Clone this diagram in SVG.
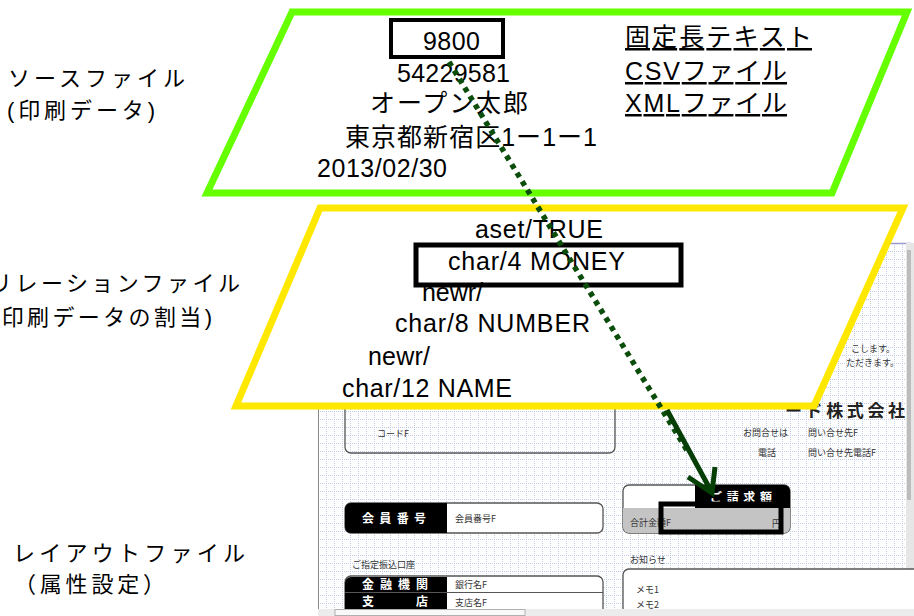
<svg xmlns="http://www.w3.org/2000/svg" width="914" height="616" viewBox="0 0 914 616">
<style>
  .t { font-family: "Liberation Sans", "Noto Sans CJK JP", sans-serif; font-size: 25px; fill: #000; }
  .lbl { font-family: "Liberation Sans", "Noto Sans CJK JP", sans-serif; font-size: 22px; fill: #000; }
  .u { text-decoration: underline; }
  .s { font-family: "Noto Sans CJK JP", sans-serif; font-size: 9px; fill: #333; }
  .w { font-family: "Noto Sans CJK JP", sans-serif; font-size: 12px; font-weight: bold; fill: #fff; }
  .cell { fill: #000; }
  .box { fill: none; stroke: #555; stroke-width: 1.3; }
  .hl { fill: none; stroke: #000; stroke-width: 5; }
</style>
<defs>
  <pattern id="grid" x="318" y="243" width="8" height="8" patternUnits="userSpaceOnUse">
    <rect width="8" height="8" fill="#fff"/>
    <path d="M0 0.5H8M0.5 0V8" stroke="#bfcbe6" stroke-width="1" stroke-dasharray="1 1"/>
  </pattern>
</defs>

<!-- layout screenshot -->
<g id="layout">
  <rect x="318" y="243" width="593" height="373" fill="url(#grid)"/>
  <line x1="318" y1="243.5" x2="911" y2="243.5" stroke="#9a9ad0" stroke-width="1.5"/>
  <line x1="318.5" y1="243" x2="318.5" y2="616" stroke="#888"/>
  <rect x="906" y="243" width="8" height="366" fill="#e6e6e6"/>
  <rect x="907" y="250" width="4" height="250" fill="#bcbcbc"/>

  <rect class="box" x="345" y="385" width="270" height="68" rx="6"/>
  <text class="s" x="377" y="437">コードF</text>

  <text class="s" x="851" y="352">こします。</text>
  <text class="s" x="846" y="366">ただきます。</text>
  <text x="785" y="417" font-family="Noto Sans CJK JP, sans-serif" font-size="17" font-weight="bold" fill="#222" textLength="120" lengthAdjust="spacing">ード株式会社</text>
  <text class="s" x="743" y="436">お問合せは</text>
  <text class="s" x="808" y="436">問い合せ先F</text>
  <text class="s" x="758" y="456">電話</text>
  <text class="s" x="808" y="456">問い合せ先電話F</text>

  <rect x="345" y="503" width="258" height="30" rx="6" fill="#fff" stroke="#555" stroke-width="1.3"/>
  <path class="cell" d="M351 503H447V533H351A6 6 0 0 1 345 527V509A6 6 0 0 1 351 503Z"/>
  <text class="w" x="362" y="523" textLength="64" lengthAdjust="spacing">会員番号</text>
  <text class="s" x="455" y="522" font-size="11">会員番号F</text>

  <text class="s" x="352" y="568">ご指定振込口座</text>
  <rect x="345" y="576" width="258" height="60" rx="6" fill="#fff" stroke="#555" stroke-width="1.3"/>
  <path class="cell" d="M351 577H447V592H345V583A6 6 0 0 1 351 577Z"/>
  <rect class="cell" x="345" y="593" width="102" height="17"/>
  <line x1="345" y1="592.5" x2="603" y2="592.5" stroke="#555"/>
  <text class="w" x="362" y="589" textLength="66" lengthAdjust="spacing">金融機関</text>
  <text class="w" x="362" y="606" textLength="66" lengthAdjust="spacing">支店</text>
  <text class="s" x="455" y="588">銀行名F</text>
  <text class="s" x="455" y="606">支店名F</text>

  <rect x="623" y="485" width="167" height="48" rx="6" fill="#fff" stroke="#555" stroke-width="1.3"/>
  <path d="M623 508H790V527A6 6 0 0 1 784 533H629A6 6 0 0 1 623 527Z" fill="#c4c4c4"/>
  <path class="cell" d="M695 485H784A6 6 0 0 1 790 491V508H695Z"/>
  <text class="w" x="710" y="502" textLength="62" lengthAdjust="spacing">ご請求額</text>
  <text class="s" x="630" y="526" font-size="11">合計金額F</text>
  <text class="s" x="772" y="527" font-size="11">円</text>
  <rect class="hl" x="661" y="504" width="120" height="28"/>

  <text class="s" x="630" y="563">お知らせ</text>
  <rect x="623" y="569" width="300" height="60" rx="6" fill="#fff" stroke="#555" stroke-width="1.3"/>
  <text class="s" x="636" y="593">メモ1</text>
  <text class="s" x="636" y="608">メモ2</text>
  <rect x="318" y="609" width="596" height="7" fill="#ececec"/>
  <rect x="335" y="609.5" width="190" height="6" fill="#f8f8f8" stroke="#b0b0b0"/>
</g>

<!-- source file -->
<g id="source">
  <polygon points="292,12 907,12 832,193 207,193" fill="#fff" stroke="#66ff00" stroke-width="7"/>
  <rect x="391" y="20" width="112" height="37" fill="none" stroke="#000" stroke-width="4"/>
  <text class="t" x="423" y="50" textLength="57" lengthAdjust="spacing">9800</text>
  <text class="t" x="397" y="82" textLength="113" lengthAdjust="spacing">54229581</text>
  <text class="t" x="370" y="112" textLength="158" lengthAdjust="spacing">オープン太郎</text>
  <text class="t" x="345" y="146" textLength="252" lengthAdjust="spacing">東京都新宿区1ー1ー1</text>
  <text class="t" x="317" y="177" textLength="130" lengthAdjust="spacing">2013/02/30</text>
  <text class="t u" x="625" y="46" textLength="187" lengthAdjust="spacing">固定長テキスト</text>
  <text class="t u" x="625" y="80" textLength="162" lengthAdjust="spacing">CSVファイル</text>
  <text class="t u" x="625" y="112" textLength="162" lengthAdjust="spacing">XMLファイル</text>
</g>

<!-- relation file -->
<g id="relation">
  <polygon points="320,208 903,208 814,406 236,406" fill="#fff" stroke="#ffe800" stroke-width="7"/>
  <text class="t" x="475" y="238" textLength="128" lengthAdjust="spacing">aset/TRUE</text>
  <text class="t" x="448" y="270" textLength="177" lengthAdjust="spacing">char/4 MONEY</text>
  <text class="t" x="422" y="301" textLength="61" lengthAdjust="spacing">newr/</text>
  <rect x="416" y="245" width="265" height="40" fill="none" stroke="#000" stroke-width="5"/>
  <text class="t" x="395" y="332" textLength="195" lengthAdjust="spacing">char/8 NUMBER</text>
  <text class="t" x="368" y="365" textLength="62" lengthAdjust="spacing">newr/</text>
  <text class="t" x="342" y="397" textLength="170" lengthAdjust="spacing">char/12 NAME</text>
</g>

<!-- side labels -->
<g id="labels">
  <text class="lbl" x="8" y="86" textLength="177" lengthAdjust="spacing">ソースファイル</text>
  <text class="lbl" x="7" y="118" textLength="148" lengthAdjust="spacing">(印刷データ)</text>
  <text class="lbl" x="-10" y="291" textLength="250" lengthAdjust="spacing">リレーションファイル</text>
  <text class="lbl" x="-9" y="325" textLength="221" lengthAdjust="spacing">(印刷データの割当)</text>
  <text class="lbl" x="13" y="561" textLength="232" lengthAdjust="spacing">レイアウトファイル</text>
  <text class="lbl" x="14" y="592" textLength="151" lengthAdjust="spacing">（属性設定）</text>
</g>

<!-- connectors -->
<g id="connectors">
  <line x1="449" y1="62" x2="688" y2="452" stroke="#0b4d0b" stroke-width="5.5" stroke-dasharray="5 5"/>
  <line x1="667" y1="410" x2="710" y2="489" stroke="#063f06" stroke-width="5"/>
  <polyline points="688,477 712,493 715,467" fill="none" stroke="#063f06" stroke-width="5" stroke-linejoin="miter"/>
</g>
</svg>
